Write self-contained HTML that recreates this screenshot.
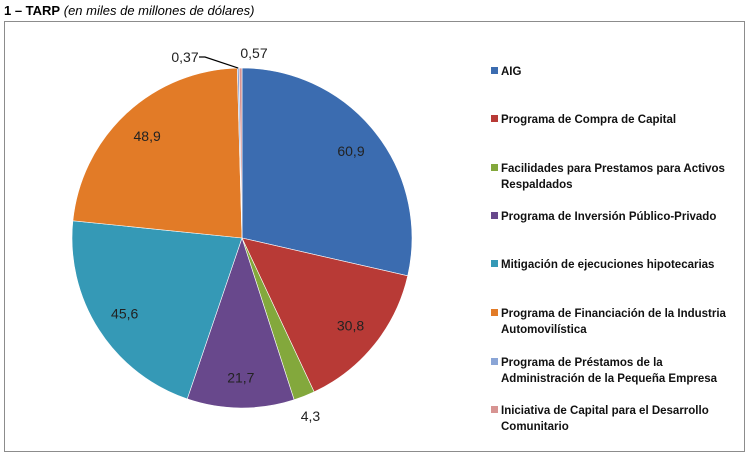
<!DOCTYPE html>
<html><head><meta charset="utf-8"><style>
body{margin:0;width:752px;height:474px;background:#fff;overflow:hidden;font-family:"Liberation Sans",sans-serif}
#title{position:absolute;left:4px;top:3px;font-size:13px;color:#000}
#frame{position:absolute;left:4px;top:21px;width:741px;height:431px;border:1px solid #8c8c8c;box-sizing:border-box}
svg{position:absolute;left:0;top:0}
</style></head><body>
<div id="title"><b>1 – TARP</b> <i>(en miles de millones de dólares)</i></div>
<div id="frame"></div>
<svg id="chart" width="752" height="474"></svg>
<script>
const categories=["AIG","Programa de Compra de Capital","Facilidades para Prestamos para Activos|Respaldados","Programa de Inversión Público-Privado","Mitigación de ejecuciones hipotecarias","Programa de Financiación de la Industria|Automovilística","Programa de Préstamos de la|Administración de la Pequeña Empresa","Iniciativa de Capital para el Desarrollo|Comunitario"];
const values=[60.9,30.8,4.3,21.7,45.6,48.9,0.37,0.57];
const labels=["60,9","30,8","4,3","21,7","45,6","48,9","0,37","0,57"];
const colors=["#3b6cb0","#b83a36","#83a83c","#68488c","#3599b6","#e27b27","#8aa5d6","#d79492"];
const NS="http://www.w3.org/2000/svg";
const svg=document.getElementById('chart');
const cx=242,cy=238,r=170;
const total=values.reduce((a,b)=>a+b,0);
function pt(a,rr){return [cx+rr*Math.sin(a),cy-rr*Math.cos(a)];}
let acc=0;
values.forEach((v,i)=>{
  const a0=acc/total*2*Math.PI; acc+=v; const a1=acc/total*2*Math.PI;
  const p0=pt(a0,r),p1=pt(a1,r);
  const path=document.createElementNS(NS,'path');
  path.setAttribute('d',`M${cx},${cy}L${p0[0]},${p0[1]}A${r},${r} 0 ${a1-a0>Math.PI?1:0} 1 ${p1[0]},${p1[1]}Z`);
  path.setAttribute('fill',colors[i]);path.setAttribute('stroke','#fff');path.setAttribute('stroke-width','0.6');
  
  
  svg.appendChild(path);
  const am=(a0+a1)/2;
  let lp;
  if(i===6){lp=[185,57];}
  else if(i===7){lp=[254,53];}
  else if(i===2){lp=pt(am,r*1.1);lp[1]+=4;}
  else lp=pt(am,r*0.82);
  const t=document.createElementNS(NS,'text');
  t.setAttribute('x',lp[0]);t.setAttribute('y',lp[1]+5);
  t.setAttribute('text-anchor','middle');t.setAttribute('font-size','14');t.setAttribute('fill','#222');
  t.setAttribute('font-family','"Liberation Sans",sans-serif');
  t.textContent=labels[i];
  
  
  svg.appendChild(t);
  if(i===6){
    const l=document.createElementNS(NS,'polyline');
    const e=pt(am,r);
    l.setAttribute('points',`199,57 205,57 ${e[0]},${e[1]}`);
    l.setAttribute('stroke','#000');l.setAttribute('fill','none');l.setAttribute('stroke-width','1.2');
    
    
    svg.appendChild(l);
  }
});
const ly=[71,119,168,216,264,313,362,410];
categories.forEach((c,i)=>{
  const sq=document.createElementNS(NS,'rect');
  sq.setAttribute('x',491);sq.setAttribute('y',ly[i]-4);sq.setAttribute('width',7);sq.setAttribute('height',7);sq.setAttribute('fill',colors[i]);
  
  
  svg.appendChild(sq);
  c.split('|').forEach((line,j)=>{
    const t=document.createElementNS(NS,'text');
    t.setAttribute('x',501);t.setAttribute('y',ly[i]+4+j*16);
    t.setAttribute('font-size','11.5');t.setAttribute('font-weight','bold');t.setAttribute('fill','#111');
    t.setAttribute('font-family','"Liberation Sans",sans-serif');
    t.textContent=line;
    
    
    svg.appendChild(t);
  });
});
</script>
</body></html>
